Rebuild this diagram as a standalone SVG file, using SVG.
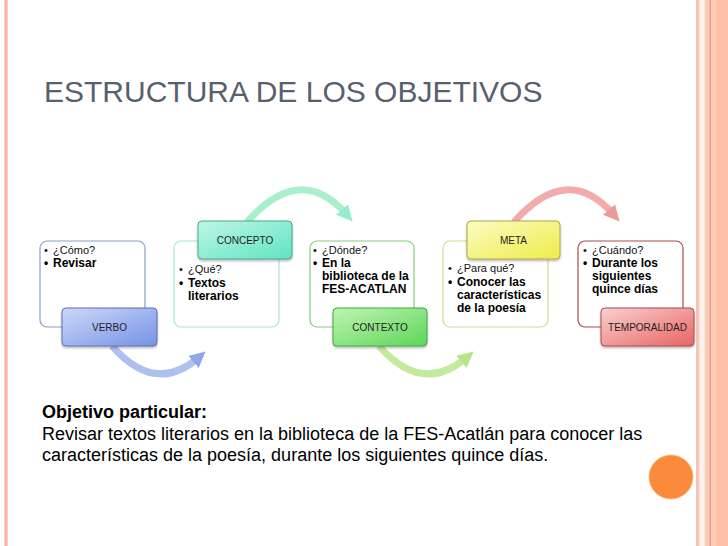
<svg xmlns="http://www.w3.org/2000/svg" width="728" height="546" viewBox="0 0 728 546">
<defs>
<style>
.card{fill:#fff;stroke-width:1.2}
.lab{stroke-width:1;filter:url(#sh)}
.q{font-family:"Liberation Sans",Arial,sans-serif;font-size:11px;fill:#111}
.a{font-family:"Liberation Sans",Arial,sans-serif;font-size:12px;font-weight:bold;fill:#000}
.lt{font-family:"Liberation Sans",Arial,sans-serif;font-size:10px;fill:#222;text-anchor:middle}
.band{fill:none;stroke-width:7;stroke-linecap:butt}
.body{font-family:"Liberation Sans",Arial,sans-serif;font-size:18px;fill:#000}
</style>
<filter id="sh" x="-10%" y="-20%" width="120%" height="150%">
<feDropShadow dx="0" dy="1.5" stdDeviation="1.2" flood-color="#000" flood-opacity="0.3"/>
</filter>
<linearGradient id="gB" x1="0" y1="0" x2="1" y2="1"><stop offset="0" stop-color="#cdd8f7"/><stop offset="1" stop-color="#7592e8"/></linearGradient>
<linearGradient id="gT" x1="0" y1="0" x2="1" y2="1"><stop offset="0" stop-color="#c0f6e6"/><stop offset="1" stop-color="#5ee4c2"/></linearGradient>
<linearGradient id="gG" x1="0" y1="0" x2="1" y2="1"><stop offset="0" stop-color="#c0f4b2"/><stop offset="1" stop-color="#5cd658"/></linearGradient>
<linearGradient id="gY" x1="0" y1="0" x2="1" y2="1"><stop offset="0" stop-color="#fcfcc4"/><stop offset="1" stop-color="#eeec48"/></linearGradient>
<linearGradient id="gR" x1="0" y1="0" x2="1" y2="1"><stop offset="0" stop-color="#fad0d0"/><stop offset="1" stop-color="#e86464"/></linearGradient>
<marker id="mB" viewBox="0 0 16 16" markerUnits="userSpaceOnUse" markerWidth="16" markerHeight="16" refX="6" refY="8" orient="auto"><path d="M0,0 L16,8 L0,16 z" fill="#8fa8ea"/></marker>
<marker id="mT" viewBox="0 0 16 16" markerUnits="userSpaceOnUse" markerWidth="16" markerHeight="16" refX="6" refY="8" orient="auto"><path d="M0,0 L16,8 L0,16 z" fill="#96ecd2"/></marker>
<marker id="mG" viewBox="0 0 16 16" markerUnits="userSpaceOnUse" markerWidth="16" markerHeight="16" refX="6" refY="8" orient="auto"><path d="M0,0 L16,8 L0,16 z" fill="#b6e68a"/></marker>
<marker id="mR" viewBox="0 0 16 16" markerUnits="userSpaceOnUse" markerWidth="16" markerHeight="16" refX="6" refY="8" orient="auto"><path d="M0,0 L16,8 L0,16 z" fill="#ec9a9a"/></marker>
</defs>
<rect width="728" height="546" fill="#fff"/>
<g id="frame">
<rect x="4" y="0" width="4" height="546" fill="#f9cdbf"/>
<rect x="5.3" y="0" width="1.4" height="546" fill="#f3b3a2"/>
<rect x="696" y="0" width="3.6" height="546" fill="#f6c6b7"/>
<rect x="699.6" y="0" width="4.9" height="546" fill="#fdf1ed"/>
<rect x="704.5" y="0" width="5" height="546" fill="#f9cbbb"/>
<rect x="709.5" y="0" width="1.7" height="546" fill="#ee9270"/>
<rect x="711.2" y="0" width="4.3" height="546" fill="#fccbb8"/>
<rect x="715.5" y="0" width="12.5" height="546" fill="#fdc1aa"/>
<circle cx="671" cy="477" r="22" fill="#fb8a3b" stroke="#fbb47e" stroke-width="0.8"/>
</g>
<text x="44" y="102" font-family="Liberation Sans, Arial, sans-serif" font-size="30" fill="#58606d">ESTRUCTURA DE LOS OBJETIVOS</text>
<g id="connectors">
<path class="band" d="M112 346 Q155 395 198 358" stroke="#adc0ee" marker-end="url(#mB)"/>
<path class="band" d="M247 222 Q300 162 346 214" stroke="#a8f0cc" marker-end="url(#mT)"/>
<path class="band" d="M379 346 Q422 395 466 358" stroke="#c4ea9c" marker-end="url(#mG)"/>
<path class="band" d="M514 222 Q567 162 613 214" stroke="#f2acac" marker-end="url(#mR)"/>
</g>
<g id="verbo">
<rect class="card" x="40" y="241" width="105" height="86" rx="7" stroke="#8aa0c8"/>
<text class="q" x="44" y="254">•</text><text class="q" x="53" y="254">¿Cómo?</text>
<text class="a" x="44" y="267">•</text><text class="a" x="53" y="267">Revisar</text>
<rect class="lab" x="62" y="308" width="95" height="38" rx="4" fill="url(#gB)" stroke="#5d72a8"/>
<text class="lt" x="109.5" y="330.5">VERBO</text>
</g>
<g id="concepto">
<rect class="card" x="174" y="241" width="105" height="86" rx="7" stroke="#a6e6d6"/>
<text class="q" x="179" y="273">•</text><text class="q" x="188" y="273">¿Qué?</text>
<text class="a" x="179" y="287">•</text><text class="a" x="188" y="287">Textos</text>
<text class="a" x="188" y="300">literarios</text>
<rect class="lab" x="198" y="221" width="94" height="38" rx="4" fill="url(#gT)" stroke="#48a88e"/>
<text class="lt" x="245" y="243.5">CONCEPTO</text>
</g>
<g id="contexto">
<rect class="card" x="310" y="241" width="104" height="86" rx="7" stroke="#86cc7e"/>
<text class="q" x="313" y="254">•</text><text class="q" x="322" y="254">¿Dónde?</text>
<text class="a" x="313" y="267">•</text><text class="a" x="322" y="267">En la</text>
<text class="a" x="322" y="280">biblioteca de la</text>
<text class="a" x="322" y="293">FES-ACATLAN</text>
<rect class="lab" x="333" y="308" width="94" height="38" rx="4" fill="url(#gG)" stroke="#48a646"/>
<text class="lt" x="380" y="330.5">CONTEXTO</text>
</g>
<g id="meta">
<rect class="card" x="443" y="241" width="105" height="86" rx="7" stroke="#d8d894"/>
<text class="q" x="448" y="272">•</text><text class="q" x="457" y="272">¿Para qué?</text>
<text class="a" x="448" y="285.5">•</text><text class="a" x="457" y="285.5">Conocer las</text>
<text class="a" x="457" y="298.5">características</text>
<text class="a" x="457" y="311.5">de la poesía</text>
<rect class="lab" x="467" y="221" width="93" height="38" rx="4" fill="url(#gY)" stroke="#aaaa48"/>
<text class="lt" x="513.5" y="243.5">META</text>
</g>
<g id="temporalidad">
<rect class="card" x="578" y="241" width="105" height="86" rx="7" stroke="#a84c4c"/>
<text class="q" x="583" y="254">•</text><text class="q" x="592" y="254">¿Cuándo?</text>
<text class="a" x="583" y="267">•</text><text class="a" x="592" y="267">Durante los</text>
<text class="a" x="592" y="280">siguientes</text>
<text class="a" x="592" y="293">quince días</text>
<rect class="lab" x="601" y="308" width="93" height="38" rx="4" fill="url(#gR)" stroke="#a84c4c"/>
<text class="lt" x="647.5" y="330.5">TEMPORALIDAD</text>
</g>
<g id="objetivo">
<text class="body" x="42" y="418" font-weight="bold">Objetivo particular:</text>
<text class="body" x="42" y="440">Revisar textos literarios en la biblioteca de la FES-Acatlán para conocer las</text>
<text class="body" x="42" y="461">características de la poesía, durante los siguientes quince días.</text>
</g>
</svg>
